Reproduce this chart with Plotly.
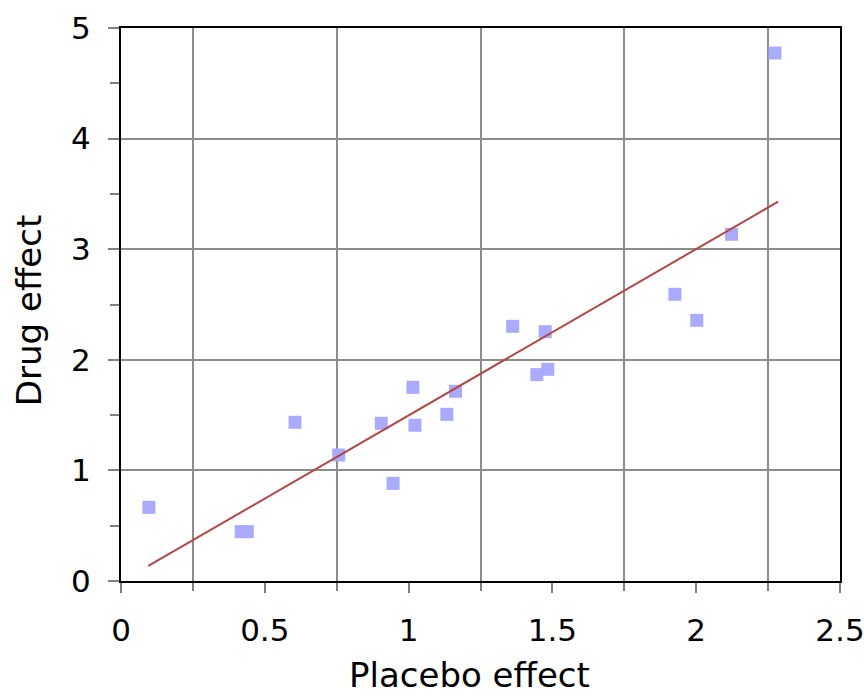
import plotly.graph_objects as go

# Data
placebo = [0.097, 0.418, 0.439, 0.605, 0.757, 0.905, 0.946, 1.015, 1.022, 1.133,
           1.163, 1.362, 1.446, 1.475, 1.484, 1.926, 2.002, 2.123, 2.274]
drug = [0.666, 0.446, 0.446, 1.435, 1.139, 1.426, 0.883, 1.751, 1.408, 1.507,
        1.715, 2.303, 1.866, 2.254, 1.914, 2.592, 2.357, 3.135, 4.774]

trend_x = [0.095, 2.285]
trend_y = [0.136, 3.43]

x_ticks = [0, 0.5, 1, 1.5, 2, 2.5]
x_tick_labels = ["0", "0.5", "1", "1.5", "2", "2.5"]
x_grid = [0.25, 0.75, 1.25, 1.75, 2.25]
y_ticks = [0, 1, 2, 3, 4, 5]
y_minor = [0.5, 1.5, 2.5, 3.5, 4.5]

FONT = "DejaVu Sans"

fig = go.Figure()
fig.add_trace(go.Scatter(
    x=placebo, y=drug, mode="markers",
    marker=dict(symbol="square", size=13, color="#aaaaff", line=dict(width=0)),
    showlegend=False, hoverinfo="skip"))
fig.add_trace(go.Scatter(
    x=trend_x, y=trend_y, mode="lines",
    line=dict(color="#b04848", width=2), showlegend=False, hoverinfo="skip"))

fig.update_layout(
    width=864, height=700,
    margin=dict(l=121, r=24, t=28, b=119),
    paper_bgcolor="white", plot_bgcolor="white",
    font=dict(family=FONT, color="black"),
    xaxis=dict(
        range=[0, 2.5], tickvals=x_ticks, ticktext=x_tick_labels,
        automargin=False, ticklabeloverflow="allow",
        showgrid=False, zeroline=False,
        showline=True, linecolor="black", linewidth=2, mirror=True,
        ticks="outside", ticklen=10, tickcolor="#808080", tickwidth=1.5,
        tickfont=dict(family=FONT, size=31, color="black"),
        ticklabelstandoff=11,
        minor=dict(tickvals=x_grid, showgrid=True, gridcolor="#8c8c8c", gridwidth=1.5,
                   ticks="outside", ticklen=8, tickcolor="#808080", tickwidth=1.5),
    ),
    yaxis=dict(
        range=[0, 5], tickvals=y_ticks,
        automargin=False, ticklabeloverflow="allow",
        showgrid=True, gridcolor="#8c8c8c", gridwidth=1.5, zeroline=False,
        showline=True, linecolor="black", linewidth=2, mirror=True,
        ticks="outside", ticklen=11, tickcolor="#808080", tickwidth=1.5,
        tickfont=dict(family=FONT, size=31, color="black"),
        ticklabelstandoff=11,
        minor=dict(tickvals=y_minor, showgrid=False,
                   ticks="outside", ticklen=9, tickcolor="#808080", tickwidth=1.5),
    ),
    annotations=[
        dict(text="Placebo effect", xref="paper", yref="paper",
             x=(469.5 - 121) / 719, y=0, yshift=-72, xanchor="center", yanchor="top",
             showarrow=False, font=dict(family=FONT, size=34, color="black")),
        dict(text="Drug effect", xref="paper", yref="paper",
             x=0, y=0.488, xshift=-92, xanchor="center", yanchor="middle",
             textangle=-90, showarrow=False,
             font=dict(family=FONT, size=34, color="black")),
    ],
)

fig.write_html("out.html", config={"displayModeBar": False},
               post_script="document.body.style.margin='0';")
